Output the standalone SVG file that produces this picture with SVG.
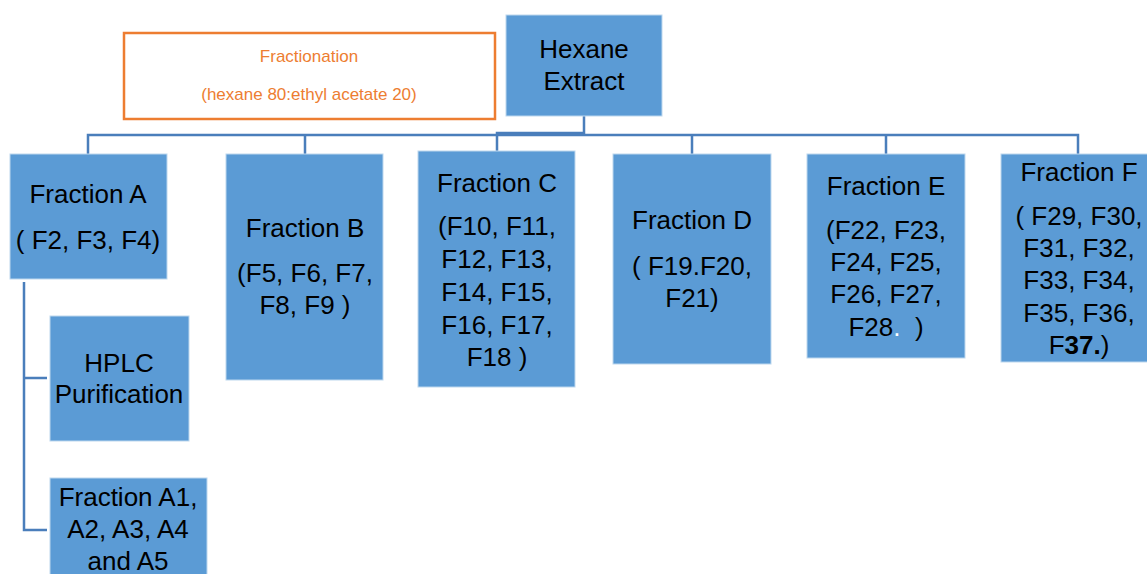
<svg xmlns="http://www.w3.org/2000/svg" width="1147" height="574" viewBox="0 0 1147 574">
<style>
.box{fill:#5B9BD5;stroke:#BDD7EE;stroke-width:1}
.t{font-family:"Liberation Sans",Arial,sans-serif;font-size:26px;fill:#000;text-anchor:middle}
.o{font-family:"Liberation Sans",Arial,sans-serif;font-size:17px;fill:#ED7D31;text-anchor:middle}
.c{fill:none;stroke:#4A7EBB;stroke-width:2.5}
</style>
<rect width="1147" height="574" fill="#fff"/>
<g id="connectors">
<path class="c" d="M584,116V133H497V151"/>
<path class="c" d="M88,154V135H1078V154"/>
<path class="c" d="M305,135V154M692,135V154M886,135V154"/>
<path class="c" d="M24,282V530H47M24,378H47"/>
</g>
<g id="note">
<rect x="124" y="33" width="371" height="86" fill="#fff" stroke="#ED7D31" stroke-width="2.5"/>
<text class="o" x="309" y="62">Fractionation</text>
<text class="o" x="309" y="100">(hexane 80:ethyl acetate 20)</text>
</g>
<g id="hexane">
<rect class="box" x="506" y="15" width="156" height="101"/>
<text class="t" x="584" y="58">Hexane</text>
<text class="t" x="584" y="90">Extract</text>
</g>
<g id="fracA">
<rect class="box" x="10" y="154" width="157" height="125"/>
<text class="t" x="88" y="203">Fraction A</text>
<text class="t" x="88" y="249">( F2, F3, F4)</text>
</g>
<g id="hplc">
<rect class="box" x="50" y="316" width="139" height="125"/>
<text class="t" x="119" y="372">HPLC</text>
<text class="t" x="119" y="403">Purification</text>
</g>
<g id="fracA1">
<rect class="box" x="50" y="478" width="157" height="110"/>
<text class="t" x="128" y="506">Fraction A1,</text>
<text class="t" x="128" y="538">A2, A3, A4</text>
<text class="t" x="128" y="570">and A5</text>
</g>
<g id="fracB">
<rect class="box" x="226" y="154" width="157" height="226"/>
<text class="t" x="305" y="237">Fraction B</text>
<text class="t" x="305" y="282">(F5, F6, F7,</text>
<text class="t" x="305" y="314">F8, F9 )</text>
</g>
<g id="fracC">
<rect class="box" x="418" y="151" width="157" height="236"/>
<text class="t" x="497" y="192">Fraction C</text>
<text class="t" x="497" y="235">(F10, F11,</text>
<text class="t" x="497" y="268">F12, F13,</text>
<text class="t" x="497" y="301">F14, F15,</text>
<text class="t" x="497" y="334">F16, F17,</text>
<text class="t" x="497" y="366">F18 )</text>
</g>
<g id="fracD">
<rect class="box" x="613" y="154" width="158" height="210"/>
<text class="t" x="692" y="229">Fraction D</text>
<text class="t" x="692" y="275">( F19.F20,</text>
<text class="t" x="692" y="307">F21)</text>
</g>
<g id="fracE">
<rect class="box" x="807" y="154" width="158" height="204"/>
<text class="t" x="886" y="195">Fraction E</text>
<text class="t" x="886" y="239">(F22, F23,</text>
<text class="t" x="886" y="271">F24, F25,</text>
<text class="t" x="886" y="303">F26, F27,</text>
<text class="t" x="886" y="336">F28<tspan fill="#fff">.</tspan>&#160; )</text>
</g>
<g id="fracF">
<rect class="box" x="1001" y="154" width="158" height="208"/>
<text class="t" x="1079" y="181">Fraction F</text>
<text class="t" x="1079" y="225">( F29, F30,</text>
<text class="t" x="1079" y="257">F31, F32,</text>
<text class="t" x="1079" y="289">F33, F34,</text>
<text class="t" x="1079" y="322">F35, F36,</text>
<text class="t" x="1079" y="354">F<tspan font-weight="bold">37.</tspan>)</text>
</g>
</svg>
